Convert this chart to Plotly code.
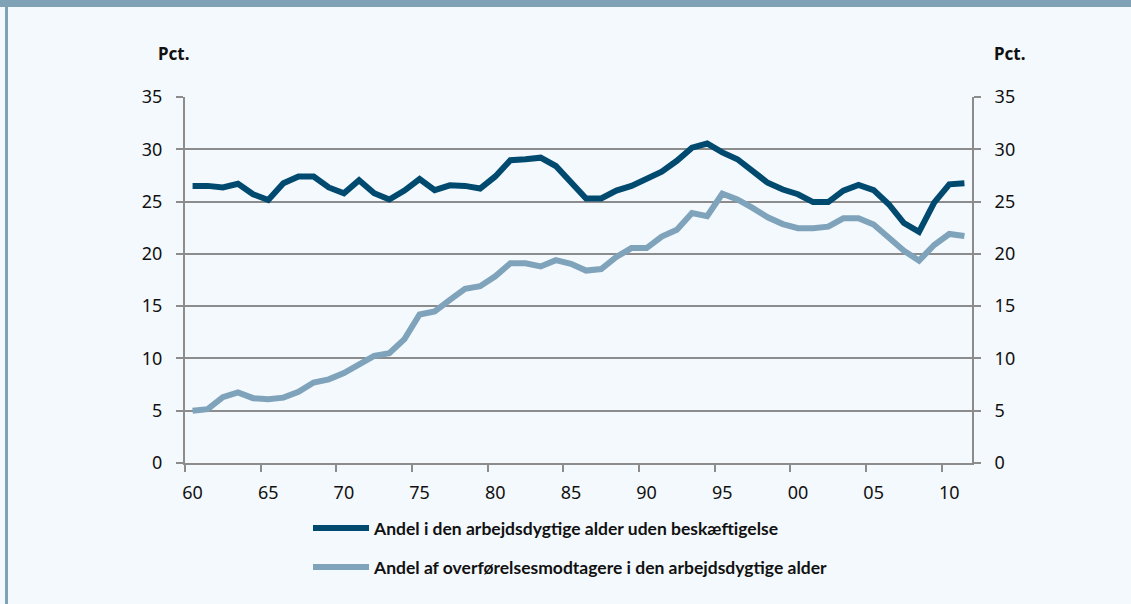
import plotly.graph_objects as go

years = list(range(1960, 2012))
uden_beskaeftigelse = [
    26.5, 26.5, 26.35, 26.7, 25.7, 25.15, 26.75, 27.4, 27.4, 26.35,
    25.8, 27.05, 25.8, 25.2, 26.05, 27.15, 26.1, 26.55, 26.5, 26.25,
    27.4, 28.95, 29.05, 29.2, 28.4, 26.9, 25.3, 25.3, 26.05, 26.5,
    27.2, 27.85, 28.9, 30.15, 30.55, 29.7, 29.05, 27.85, 26.8, 26.15,
    25.7, 24.95, 24.95, 26.05, 26.6, 26.1, 24.75, 22.95, 22.1, 24.9,
    26.65, 26.75,
]
overfoerselsesmodtagere = [
    5.0, 5.15, 6.3, 6.75, 6.2, 6.1, 6.25, 6.8, 7.7, 8.0,
    8.6, 9.5, 10.25, 10.5, 11.85, 14.2, 14.5, 15.6, 16.65, 16.9,
    17.85, 19.1, 19.1, 18.8, 19.4, 19.05, 18.4, 18.55, 19.7, 20.55,
    20.55, 21.65, 22.3, 23.9, 23.6, 25.75, 25.2, 24.4, 23.5, 22.85,
    22.45, 22.45, 22.6, 23.4, 23.4, 22.8, 21.5, 20.3, 19.35, 20.85,
    21.9, 21.7,
]
label_years = list(range(1960, 2011, 5))
x_tick_labels = ["60", "65", "70", "75", "80", "85", "90", "95", "00", "05", "10"]
y_ticks = [0, 5, 10, 15, 20, 25, 30, 35]
name_dark = "Andel i den arbejdsdygtige alder uden beskæftigelse"
name_light = "Andel af overførelsesmodtagere i den arbejdsdygtige alder"

DARK = "#004a70"
LIGHT = "#7fa3ba"
GRID = "#8c8c8c"
BG = "#f4f9fd"
TICKFONT = dict(family="Noto Sans, Open Sans, sans-serif", size=18, color="#111111")
LEGFONT = dict(family="Lato, sans-serif", size=17.5, color="#111111", weight="bold")
PCTFONT = dict(family="Noto Sans, sans-serif", size=17, color="#111111")

fig = go.Figure()
fig.add_trace(go.Scatter(
    x=years, y=uden_beskaeftigelse, mode="lines", name=name_dark,
    line=dict(color=DARK, width=6), legend="legend", showlegend=True,
))
fig.add_trace(go.Scatter(
    x=years, y=overfoerselsesmodtagere, mode="lines", name=name_light,
    line=dict(color=LIGHT, width=6), yaxis="y2", legend="legend2", showlegend=True,
))

W, H = 1131, 604
L, R, T, B = 185, 159, 97, 141
pw, ph = W - L - R, H - T - B

def px_to_paper_x(px):
    return (px - L) / pw

def px_to_paper_y(py):
    return (H - B - py) / ph

boundaries = [y - 0.5 for y in range(1960, 2013, 5)]

fig.update_layout(
    width=W, height=H, showlegend=True,
    margin=dict(l=L, r=R, t=T, b=B, pad=0),
    paper_bgcolor=BG, plot_bgcolor=BG,
    xaxis=dict(
        range=[1959.5, 2011.5], tickmode="array", tickvals=label_years, ticktext=x_tick_labels,
        ticks="", showgrid=False, zeroline=False, showline=True, linecolor=GRID, linewidth=2,
        tickfont=TICKFONT, ticklabelstandoff=12,
        minor=dict(tickmode="array", tickvals=boundaries, ticks="outside", ticklen=7,
                   tickcolor=GRID, tickwidth=2, showgrid=False),
    ),
    yaxis=dict(
        range=[0, 35], tickmode="array", tickvals=y_ticks, ticks="outside", ticklen=7,
        tickcolor=GRID, tickwidth=2, showgrid=True, gridcolor=GRID, gridwidth=1.5,
        zeroline=False, showline=True, linecolor=GRID, linewidth=2,
        tickfont=TICKFONT, ticklabelstandoff=10,
    ),
    yaxis2=dict(
        range=[0, 35], tickmode="array", tickvals=y_ticks, overlaying="y", side="right",
        ticks="outside", ticklen=7, tickcolor=GRID, tickwidth=2, showgrid=False,
        zeroline=False, showline=True, linecolor=GRID, linewidth=2,
        tickfont=TICKFONT, ticklabelstandoff=10,
    ),
    legend=dict(x=px_to_paper_x(308), y=px_to_paper_y(528), xanchor="left", yanchor="middle",
                bgcolor="rgba(0,0,0,0)", font=LEGFONT, itemwidth=56, visible=True),
    legend2=dict(x=px_to_paper_x(308), y=px_to_paper_y(567), xanchor="left", yanchor="middle",
                 bgcolor="rgba(0,0,0,0)", font=LEGFONT, itemwidth=56, visible=True),
    annotations=[
        dict(text="<b>Pct.</b>", x=px_to_paper_x(173), y=px_to_paper_y(53), xref="paper", yref="paper",
             xanchor="center", yanchor="middle", showarrow=False, font=PCTFONT),
        dict(text="<b>Pct.</b>", x=px_to_paper_x(1010), y=px_to_paper_y(53), xref="paper", yref="paper",
             xanchor="center", yanchor="middle", showarrow=False, font=PCTFONT),
    ],
    shapes=[
        dict(type="rect", xref="paper", yref="paper", x0=px_to_paper_x(0), x1=px_to_paper_x(W),
             y0=px_to_paper_y(7), y1=px_to_paper_y(0), fillcolor="#7fa2b7", line=dict(width=0), layer="above"),
        dict(type="rect", xref="paper", yref="paper", x0=px_to_paper_x(5), x1=px_to_paper_x(8),
             y0=px_to_paper_y(H), y1=px_to_paper_y(7), fillcolor="#7fa2b7", line=dict(width=0), layer="above"),
    ],
)

fig.write_html("out.html", config={"displayModeBar": False},
               post_script="document.body.style.margin='0px';")
